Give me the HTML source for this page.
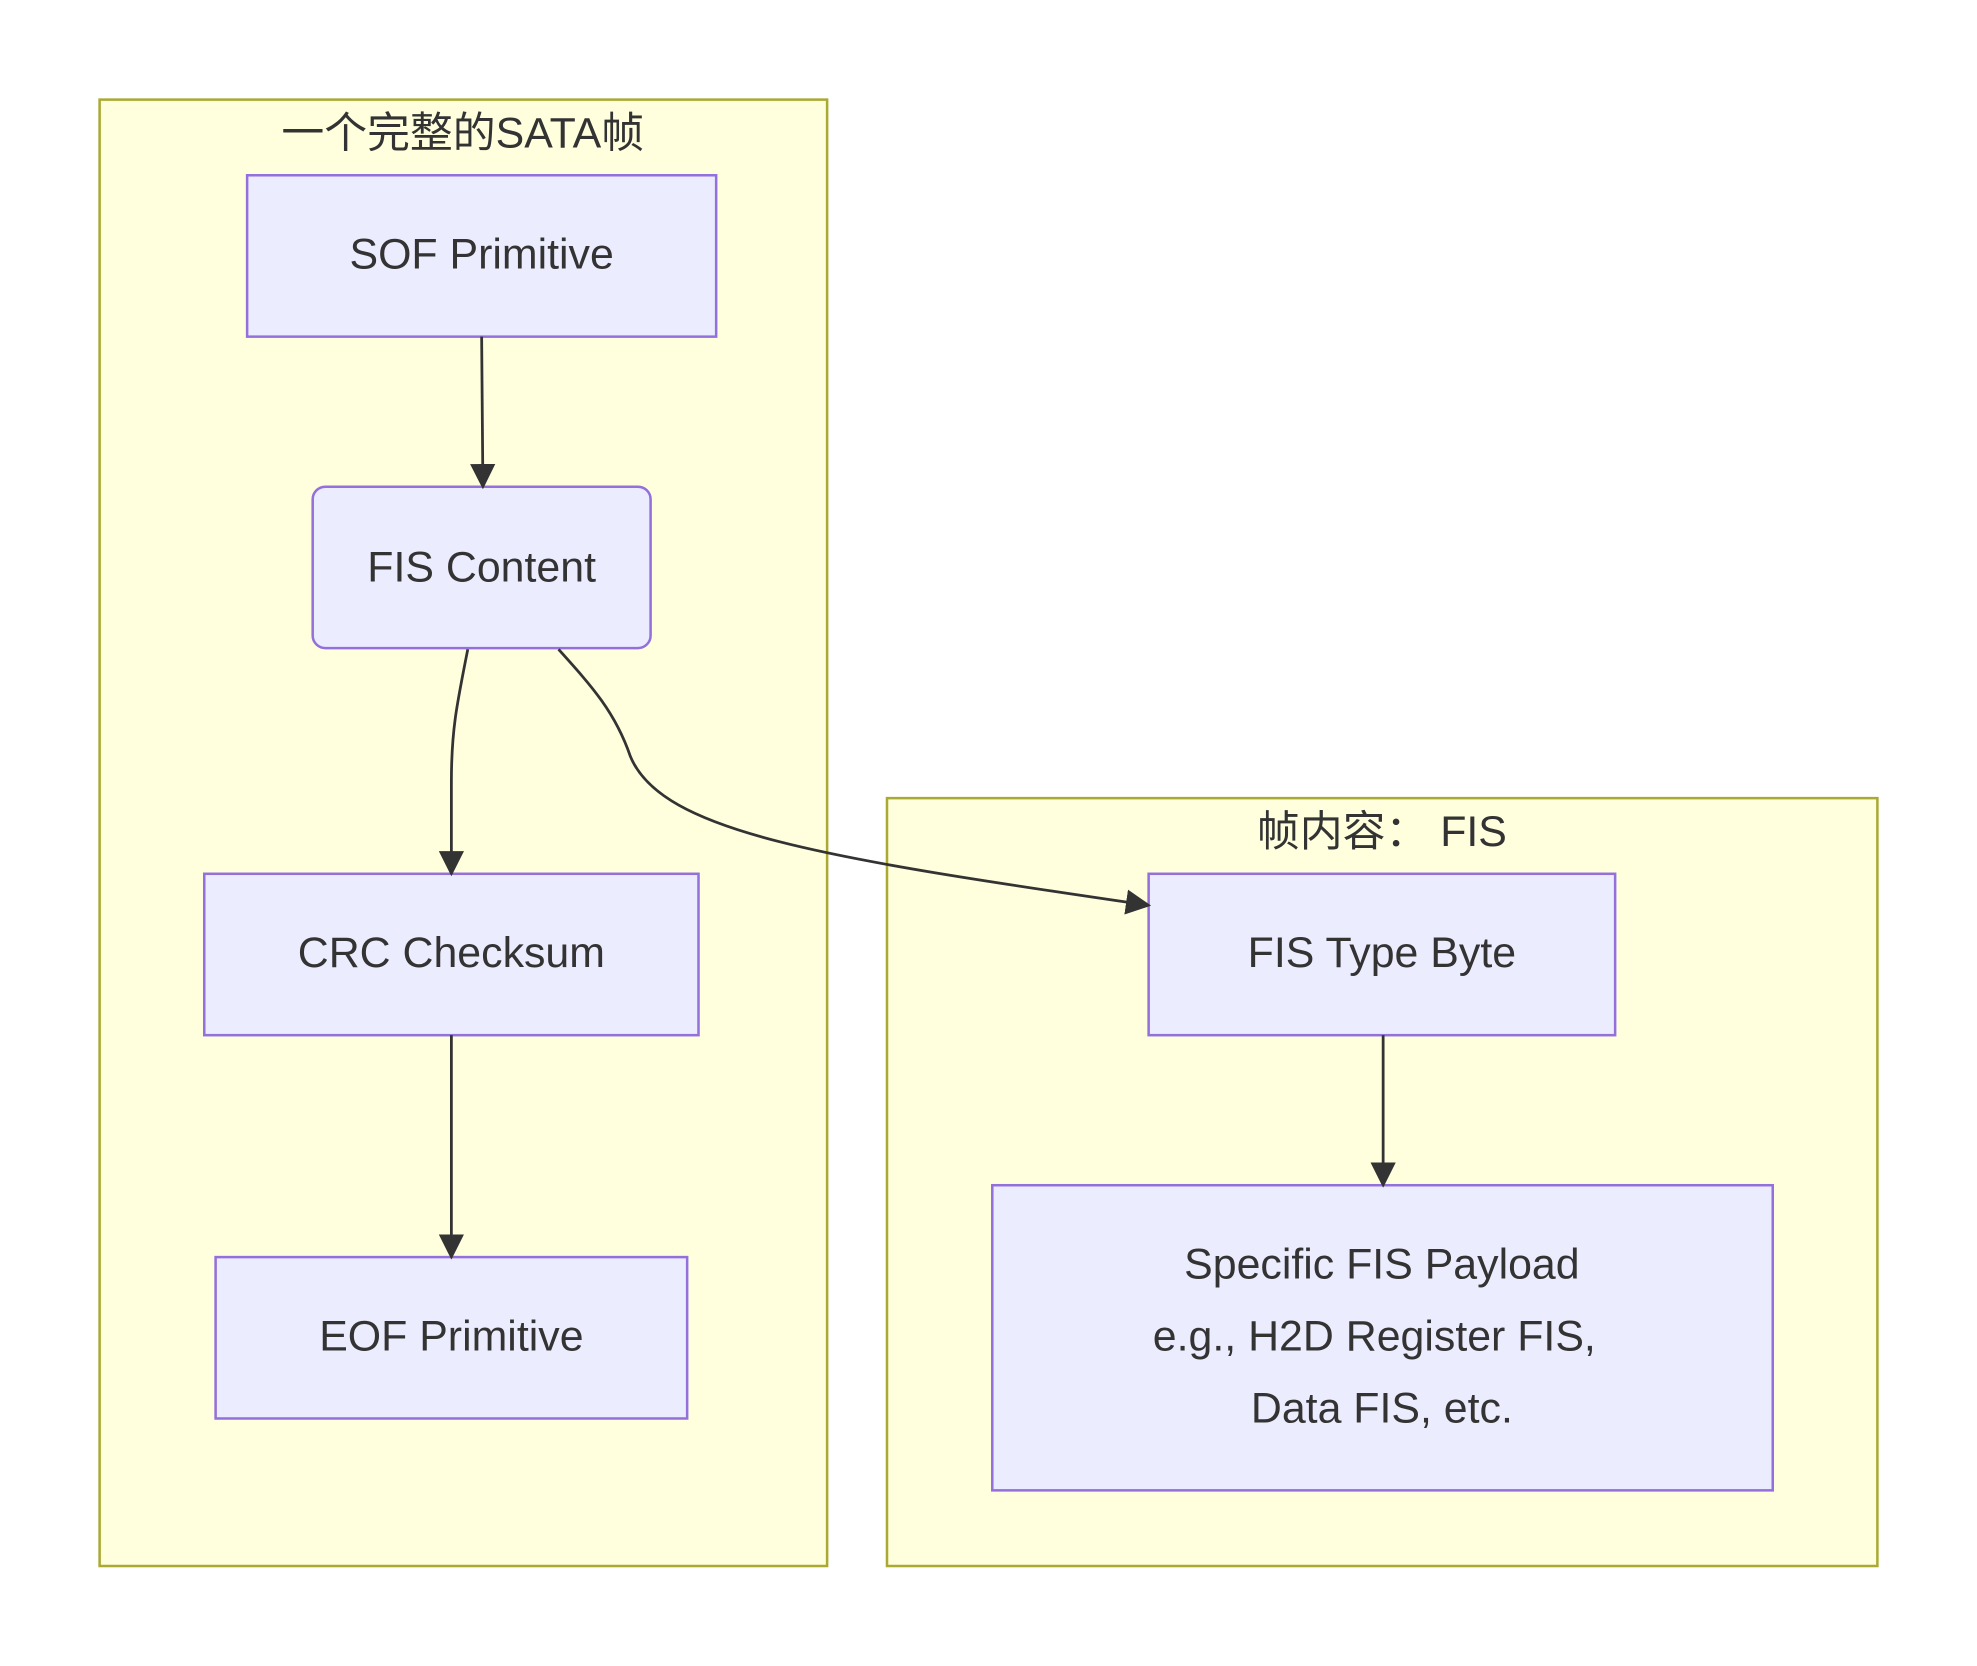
<!DOCTYPE html>
<html><head><meta charset="utf-8"><style>
html,body{margin:0;padding:0;background:#fff;}
svg{display:block;}
text{font-family:"Liberation Sans","Noto Sans CJK SC",sans-serif;fill:#333;font-size:34px;text-anchor:middle;dominant-baseline:central;}
</style></head><body>
<svg width="1977" height="1666" viewBox="0 0 1568 1321.3" preserveAspectRatio="none">
<defs><marker id="a" viewBox="0 0 10 10" refX="9" refY="5" markerWidth="7" markerHeight="7" orient="auto" markerUnits="userSpaceOnUse"><path d="M0,0L10,5L0,10z" fill="#333"/></marker>
<marker id="b" viewBox="0 0 10 10" refX="9" refY="5" markerWidth="20" markerHeight="20" orient="auto" markerUnits="userSpaceOnUse"><path d="M0,0L10,5L0,10z" fill="#333"/></marker></defs>
<rect x="79" y="79" width="577" height="1163" fill="#ffffde" stroke="#aaaa33" stroke-width="2"/>
<rect x="703.5" y="633" width="785.5" height="609" fill="#ffffde" stroke="#aaaa33" stroke-width="2"/>
<text x="367" y="106">一个完整的SATA帧</text>
<text x="1096" y="660">帧内容：  FIS</text>
<g fill="#ECECFF" stroke="#9370DB" stroke-width="2">
<rect x="196" y="139" width="372" height="128"/>
<rect x="248" y="386" width="268" height="128" rx="10"/>
<rect x="162" y="693" width="392" height="128"/>
<rect x="171" y="997" width="374" height="128"/>
<rect x="911" y="693" width="370" height="128"/>
<rect x="787" y="940" width="619" height="242"/>
</g>
<g fill="none" stroke="#333" stroke-width="2.2">
<path d="M382,267 L383,386" marker-end="url(#b)"/>
<path d="M371,515 C362,560 358,580 358,620 L358,693" marker-end="url(#b)"/>
<path d="M358,821 L358,997" marker-end="url(#b)"/>
<path d="M1097,821 L1097,940" marker-end="url(#b)"/>
<path d="M443,515 C470,545 488,565 500,600 C525,660 650,680 911,718" marker-end="url(#b)"/>
</g>
<text x="382" y="202">SOF Primitive</text>
<text x="382" y="450">FIS Content</text>
<text x="358" y="756">CRC Checksum</text>
<text x="358" y="1060">EOF Primitive</text>
<text x="1096" y="756">FIS Type Byte</text>
<text x="1096" y="1003">Specific FIS Payload</text>
<text x="1090" y="1060">e.g., H2D Register FIS,</text>
<text x="1096" y="1117">Data FIS, etc.</text>
</svg>
</body></html>
